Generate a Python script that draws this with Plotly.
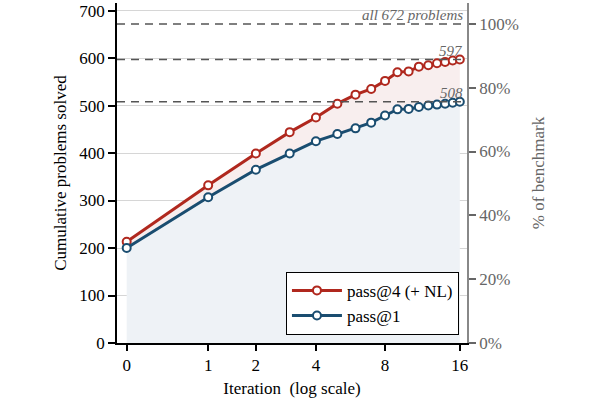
import math
import plotly.graph_objects as go

iterations = list(range(17))
pass4_nl = [213, 332, 399, 444, 475, 504, 523, 535, 552, 570, 572, 582, 585, 589, 592, 595, 597]
pass1 = [200, 307, 365, 399, 425, 440, 452, 464, 479, 492, 493, 497, 500, 502, 504, 506, 508]
total_problems = 672
x_tick_iters = [0, 1, 2, 4, 8, 16]
y_ticks = [0, 100, 200, 300, 400, 500, 600, 700]
pct_ticks = [0, 20, 40, 60, 80, 100]

RED = "#B0281E"
BLUE = "#1A4D70"
FONT = "Liberation Serif, Times New Roman, serif"

xs = [i + 1 for i in iterations]
ymax = 716

fig = go.Figure()
fig.add_trace(go.Scatter(x=xs, y=pass1, mode="lines", line=dict(width=0, color=BLUE),
                         fill="tozeroy", fillcolor="#EEF2F6", showlegend=False, hoverinfo="skip"))
fig.add_trace(go.Scatter(x=xs, y=pass4_nl, mode="lines", line=dict(width=0, color=RED),
                         fill="tonexty", fillcolor="#F8EEEE", showlegend=False, hoverinfo="skip"))
fig.add_trace(go.Scatter(x=xs, y=pass4_nl, mode="lines+markers", name="pass@4 (+ NL)",
                         line=dict(color=RED, width=3),
                         marker=dict(symbol="circle", size=8, color="white", line=dict(color=RED, width=2))))
fig.add_trace(go.Scatter(x=xs, y=pass1, mode="lines+markers", name="pass@1",
                         line=dict(color=BLUE, width=3),
                         marker=dict(symbol="circle", size=8, color="white", line=dict(color=BLUE, width=2))))
fig.add_trace(go.Scatter(x=[xs[0]], y=[0], yaxis="y2", mode="markers", marker=dict(opacity=0),
                         showlegend=False, hoverinfo="skip"))

for v in [total_problems, pass4_nl[-1], pass1[-1]]:
    fig.add_shape(type="line", xref="paper", yref="y", x0=0, x1=1, y0=v, y1=v,
                  line=dict(color="#555555", width=1.5, dash="8px,6px"), layer="above")

labels = [(total_problems, f"all {total_problems} problems"), (pass4_nl[-1], str(pass4_nl[-1])), (pass1[-1], str(pass1[-1]))]
for v, t in labels:
    fig.add_annotation(xref="paper", yref="y", x=0.995, y=v, text=f"<i>{t}</i>", showarrow=False,
                       xanchor="right", yanchor="bottom", yshift=-1,
                       font=dict(family=FONT, size=15, color="#666666"))

fig.update_layout(
    width=600, height=400,
    margin=dict(l=117, r=133, t=3, b=57),
    paper_bgcolor="white", plot_bgcolor="white",
    font=dict(family=FONT, size=17, color="black"),
    xaxis=dict(type="log", range=[math.log10(0.921), math.log10(18.07)],
               tickvals=[i + 1 for i in x_tick_iters], ticktext=[str(i) for i in x_tick_iters],
               showgrid=False, zeroline=False, showline=True, linecolor="black", linewidth=1.5,
               ticks="outside", ticklen=6, tickwidth=1.5, tickcolor="black",
               title=dict(text="Iteration  (log scale)", font=dict(size=17), standoff=8),
               tickfont=dict(size=17)),
    yaxis=dict(range=[0, ymax], tickvals=y_ticks, showgrid=True, gridcolor="#D6D6D6", gridwidth=1,
               zeroline=False, showline=True, linecolor="black", linewidth=1.5,
               ticks="outside", ticklen=7, tickwidth=1.5, tickcolor="black",
               title=dict(text="Cumulative problems solved", font=dict(size=17), standoff=8),
               tickfont=dict(size=17)),
    yaxis2=dict(overlaying="y", side="right", range=[0, ymax / total_problems * 100],
                tickvals=pct_ticks, ticktext=[f"{p}%" for p in pct_ticks],
                showgrid=False, zeroline=False, showline=True, linecolor="#888888", linewidth=1.5,
                ticks="outside", ticklen=7, tickwidth=1.5, tickcolor="#666666",
                tickfont=dict(size=17, color="#666666"),
                title=dict(text="% of benchmark", font=dict(size=17, color="#666666"), standoff=14)),
    legend=dict(x=0.977, y=0.024, xanchor="right", yanchor="bottom", bgcolor="white",
                bordercolor="black", borderwidth=1, font=dict(size=17),
                traceorder="normal", tracegroupgap=0, itemwidth=50),
    showlegend=True,
)

fig.write_html("out.html")
